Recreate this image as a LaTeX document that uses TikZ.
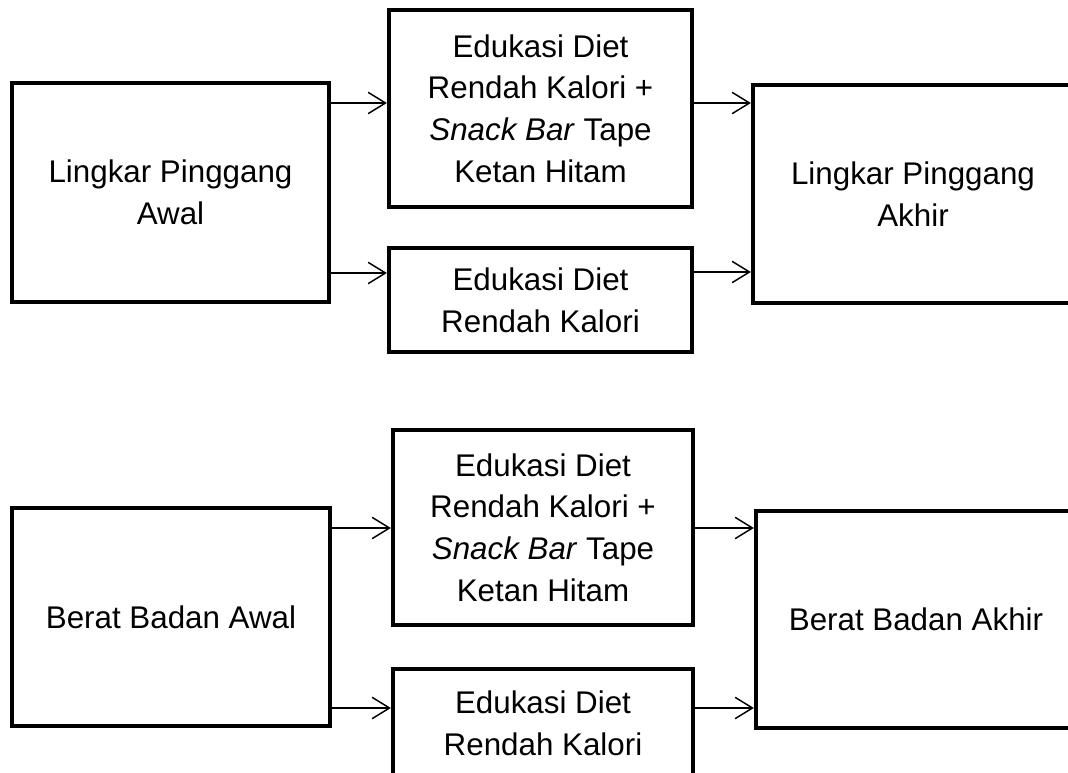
\documentclass[tikz,border=0pt]{standalone}
\usepackage{fontspec}
\setmainfont{Liberation Sans}
\usetikzlibrary{arrows.meta}

\tikzset{
  box/.style={draw, line width=3.2pt, align=center, inner sep=0pt,
    font=\fontsize{23.5}{31.3}\selectfont},
  boxsize/.style 2 args={minimum width=#1*0.75pt, minimum height=#2*0.75pt},
  arr/.style={-{Straight Barb[length=13pt,width=16pt]}, line width=1.1pt}
}

\begin{document}
\begin{tikzpicture}[x=0.75pt, y=-0.75pt]

\useasboundingbox (0,0) rectangle (1068,773);
\clip (0,0) rectangle (1068,773);

    % Waist circumference (top group)
    \node[box, boxsize={317}{219}] (lpawal) at (170.5,192.5) {Lingkar Pinggang\\Awal};
    \node[box, boxsize={303}{197}] (snack1) at (540.5,108.5) {Edukasi Diet\\Rendah Kalori +\\\textit{Snack Bar} Tape\\Ketan Hitam};
    \node[box, boxsize={303}{104}] (edu1) at (540.5,300) {Edukasi Diet\\Rendah Kalori};
    \node[box, boxsize={320}{218}] (lpakhir) at (913,194) {Lingkar Pinggang\\Akhir};

    \draw[arr] (lpawal.east |- 0,103) -- (snack1.west |- 0,103);
    \draw[arr] (lpawal.east |- 0,273) -- (edu1.west |- 0,273);
    \draw[arr] (snack1.east |- 0,103) -- (lpakhir.west |- 0,103);
    \draw[arr] (edu1.east |- 0,272) -- (lpakhir.west |- 0,272);

    % Body weight (bottom group)
    \node[box, boxsize={318}{218}] (bbawal) at (171,617) {Berat Badan Awal};
    \node[box, boxsize={300}{195}] (snack2) at (543,527.5) {Edukasi Diet\\Rendah Kalori +\\\textit{Snack Bar} Tape\\Ketan Hitam};
    \node[box, boxsize={300}{108}] (edu2) at (543,723) {Edukasi Diet\\Rendah Kalori};
    \node[box, boxsize={320}{217}] (bbakhir) at (916,619.5) {Berat Badan Akhir};

    \draw[arr] (bbawal.east |- 0,528) -- (snack2.west |- 0,528);
    \draw[arr] (bbawal.east |- 0,708) -- (edu2.west |- 0,708);
    \draw[arr] (snack2.east |- 0,528) -- (bbakhir.west |- 0,528);
    \draw[arr] (edu2.east |- 0,708) -- (bbakhir.west |- 0,708);

\end{tikzpicture}
\end{document}
